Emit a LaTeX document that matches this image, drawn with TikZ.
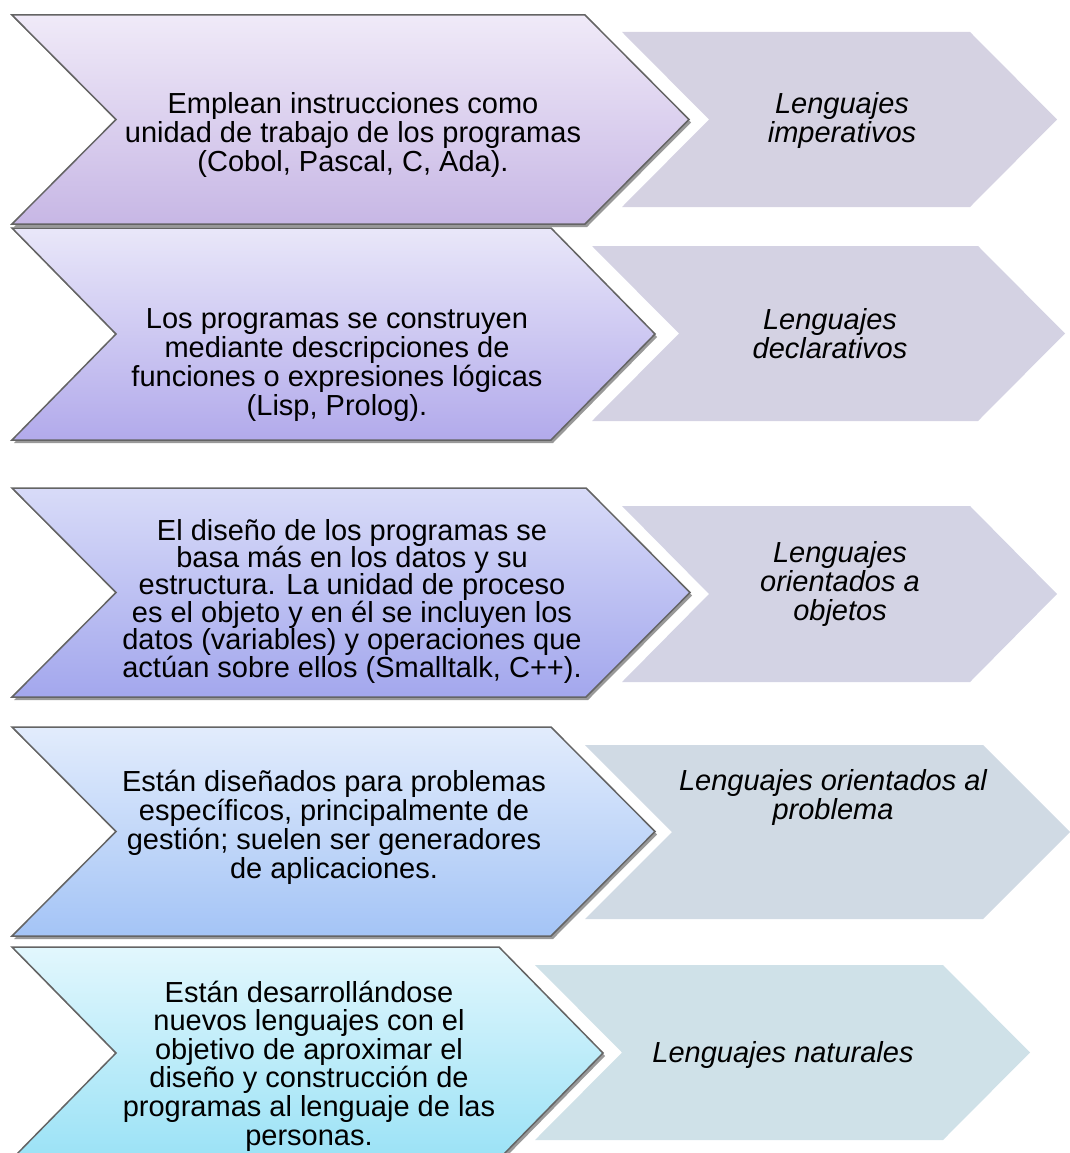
\documentclass[tikz,border=0pt]{standalone}
\usepackage{fontspec}
\setmainfont{Liberation Sans}
\usepackage{xcolor}
\usepackage{tikz}
\usetikzlibrary{shadows}

\definecolor{edgegray}{RGB}{100,100,100}
\definecolor{tagA}{RGB}{213,210,226}
\definecolor{tagB}{RGB}{212,210,227}
\definecolor{tagC}{RGB}{211,211,228}
\definecolor{tagD}{RGB}{208,218,228}
\definecolor{tagE}{RGB}{207,225,232}
\definecolor{rowAtop}{RGB}{240,234,248}
\definecolor{rowAbot}{RGB}{199,183,229}
\definecolor{rowBtop}{RGB}{233,231,249}
\definecolor{rowBbot}{RGB}{178,170,235}
\definecolor{rowCtop}{RGB}{216,219,248}
\definecolor{rowCbot}{RGB}{163,167,237}
\definecolor{rowDtop}{RGB}{226,236,252}
\definecolor{rowDbot}{RGB}{164,196,246}
\definecolor{rowEtop}{RGB}{226,247,253}
\definecolor{rowEbot}{RGB}{155,226,246}

% chevron: style, left x, top y, top-right x, bottom y, point depth
\newcommand{\chev}[6]{%
  \draw[#1] (#2,#3) -- (#4,#3) -- ({#4+#6},{(#3+#5)/2}) -- (#4,#5)
    -- (#2,#5) -- ({#2+#6},{(#3+#5)/2}) -- cycle;}

\begin{document}
\begin{tikzpicture}[
        x=1pt, y=-1pt,
        back/.style={fill=#1, draw=none},
        front/.style 2 args={top color=#1, bottom color=#2, draw=edgegray, line width=1.5pt,
            drop shadow={shadow xshift=2pt, shadow yshift=-3pt, opacity=0.4, fill=black}},
        desc/.style={align=center, inner sep=0pt, font=\fontsize{29}{29}\selectfont},
        tag/.style={align=center, inner sep=0pt, font=\fontsize{29}{29}\selectfont\itshape}
    ]
    \useasboundingbox (0,0) rectangle (1070,1153);

    % Right column: language families
    \chev{back=tagA}{622}{32}{970}{207}{87}
    \chev{back=tagB}{592}{246}{978}{421}{87}
    \chev{back=tagC}{622}{506}{970}{682}{87}
    \chev{back=tagD}{585}{745}{983}{919}{87}
    \chev{back=tagE}{535}{965}{943}{1140}{87}

    % Left column: descriptions
    \chev{front={rowAtop}{rowAbot}}{12}{15}{585}{224}{104}
    \chev{front={rowBtop}{rowBbot}}{12}{228}{551}{440}{104}
    \chev{front={rowCtop}{rowCbot}}{12}{488}{586}{697}{104}
    \chev{front={rowDtop}{rowDbot}}{12}{727}{551}{936}{104}
    \chev{front={rowEtop}{rowEbot}}{12}{947}{499}{1159}{104}

    % Description texts
    \node[desc] (d1) at (353,135) {Emplean instrucciones como\\unidad de trabajo de los programas\\(Cobol, Pascal, C, Ada).};
    \node[desc] (d2) at (337,365) {Los programas se construyen\\mediante descripciones de\\funciones o expresiones lógicas\\(Lisp, Prolog).};
    \node[desc, font=\fontsize{29}{27.4}\selectfont] (d3) at (352,601) {El diseño de los programas se\\basa más en los datos y su\\estructura. La unidad de proceso\\es el objeto y en él se incluyen los\\datos (variables) y operaciones que\\actúan sobre ellos (Smalltalk, C++).};
    \node[desc] (d4) at (334,827) {Están diseñados para problemas\\específicos, principalmente de\\gestión; suelen ser generadores\\de aplicaciones.};
    \node[desc, font=\fontsize{29}{28.6}\selectfont] (d5) at (309,1066) {Están desarrollándose\\nuevos lenguajes con el\\objetivo de aproximar el\\diseño y construcción de\\programas al lenguaje de las\\personas.};

    % Family names
    \node[tag] (l1) at (842,120.5) {Lenguajes\\imperativos};
    \node[tag] (l2) at (830,334) {Lenguajes\\declarativos};
    \node[tag] (l3) at (840,584) {Lenguajes\\orientados a\\objetos};
    \node[tag] (l4) at (833,797.5) {Lenguajes orientados al\\problema};
    \node[tag] (l5) at (783,1055) {Lenguajes naturales};

\end{tikzpicture}
\end{document}
